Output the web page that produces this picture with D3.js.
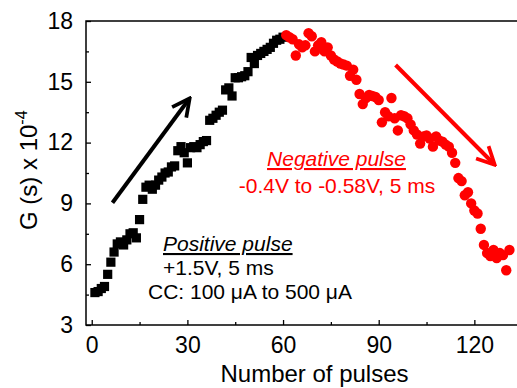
<!DOCTYPE html>
<html>
<head>
<meta charset="utf-8">
<script src="https://cdn.jsdelivr.net/npm/d3@7"></script>
<style>
    body { margin: 0; background: #fff; }
    svg { display: block; font-family: "Liberation Sans", Arial, sans-serif; }
</style>
</head>
<body>
<div id="chart"></div>
<script>
//#region Data
// Conductance G (x 10^-4 S) per pulse
const positiveStart = 1;
const positiveG = [
    4.6, 4.65, 4.8, 4.9, 5.5, 6.1, 6.6, 7.0, 7.1, 6.95,
    7.2, 7.5, 7.55, 7.3, 8.2, 9.2, 9.8, 9.9, 9.7, 9.9,
    10.15, 10.3, 10.5, 10.55, 10.8, 10.85, 11.6, 11.8, 11.5, 11.0,
    11.75, 11.8, 11.75, 11.9, 12.05, 12.1, 13.1, 13.2, 13.35, 13.5,
    13.6, 14.6, 14.7, 14.3, 15.2, 15.2, 15.25, 15.3, 15.5, 16.2,
    15.9, 16.3, 16.4, 16.5, 16.6, 16.7, 16.9, 17.05, 17.1, 17.2
];

const negativeStart = 61;
const negativeG = [
    17.3, 17.2, 17.1, 16.3, 16.85, 16.7, 16.8, 17.4, 17.25, 16.5,
    16.8, 16.95, 16.5, 16.7, 16.3, 16.1, 16.0, 15.9, 15.85, 15.8,
    15.3, 15.6, 15.1, 14.4, 13.9, 14.2, 14.35, 14.3, 14.25, 14.1,
    13.0, 13.5, 13.3, 14.2, 13.2, 12.6, 13.35, 13.3, 13.2, 12.9,
    12.6, 12.4, 11.95, 12.3, 12.35, 12.2, 11.8, 12.3, 12.1, 12.05,
    11.9, 11.8, 11.5, 11.0, 10.25, 10.1, 9.4, 9.55, 9.0, 8.65,
    8.5, 7.75, 6.95, 6.55, 6.4, 6.7, 6.3, 6.55, 6.45, 5.7,
    6.7
];

const xMajorTicks = [0, 30, 60, 90, 120];
const xMinorTicks = [15, 45, 75, 105];
const yMajorTicks = [3, 6, 9, 12, 15, 18];
const yMinorTicks = [4.5, 7.5, 10.5, 13.5, 16.5];

// Arrow annotations in data units: [pulse, G]
const riseArrow = [[6.5, 9.03], [30.3, 14.1]];
const fallArrow = [[95.3, 15.83], [125.9, 10.98]];
//#endregion

//#region Chart
const width = 517;
const height = 388;
const plot = { left: 86, right: 519, top: 21, bottom: 325 };

const svg = d3.select("#chart")
    .append("svg")
    .attr("width", width)
    .attr("height", height);

const x = d3.scaleLinear()
    .domain([-1.8, 134])
    .range([plot.left, plot.right]);

const y = d3.scaleLinear()
    .domain([3, 18])
    .range([plot.bottom, plot.top]);

const positiveData = positiveG.map((g, i) => ({ n: positiveStart + i, g }));
const negativeData = negativeG.map((g, i) => ({ n: negativeStart + i, g }));

// Arrow heads
const defs = svg.append("defs");
function addHead(id, color) {
    defs.append("marker")
        .attr("id", id)
        .attr("viewBox", "0 0 10 10")
        .attr("refX", 8)
        .attr("refY", 5)
        .attr("markerWidth", 5.5)
        .attr("markerHeight", 5.5)
        .attr("orient", "auto")
        .append("path")
        .attr("d", "M1,1 L9,5 L1,9")
        .attr("fill", "none")
        .attr("stroke", color)
        .attr("stroke-width", 1.7)
        .attr("stroke-linejoin", "miter");
}
addHead("head-black", "#000");
addHead("head-red", "#ff0000");

// Data markers
svg.append("g")
    .selectAll("rect")
    .data(positiveData)
    .enter()
    .append("rect")
    .attr("x", d => x(d.n) - 4.6)
    .attr("y", d => y(d.g) - 4.6)
    .attr("width", 9.2)
    .attr("height", 9.2)
    .attr("fill", "#000");

svg.append("g")
    .selectAll("circle")
    .data(negativeData)
    .enter()
    .append("circle")
    .attr("cx", d => x(d.n))
    .attr("cy", d => y(d.g))
    .attr("r", 5.2)
    .attr("fill", "#ff0000");

// Axes with inward ticks
function drawXAxis(ticks, size, labels) {
    const g = svg.append("g")
        .attr("transform", `translate(0,${plot.bottom})`)
        .call(d3.axisBottom(x).tickValues(ticks).tickSize(-size).tickPadding(12)
            .tickFormat(labels ? d3.format("d") : ""));
    g.select(".domain").remove();
    g.selectAll("line").attr("stroke-width", 1.3);
    g.selectAll("text").attr("font-size", 23).attr("font-family", "Liberation Sans, Arial, sans-serif");
}

function drawYAxis(ticks, size, labels) {
    const g = svg.append("g")
        .attr("transform", `translate(${plot.left},0)`)
        .call(d3.axisLeft(y).tickValues(ticks).tickSize(-size).tickPadding(13)
            .tickFormat(labels ? d3.format("d") : ""));
    g.select(".domain").remove();
    g.selectAll("line").attr("stroke-width", 1.3);
    g.selectAll("text").attr("font-size", 23).attr("font-family", "Liberation Sans, Arial, sans-serif");
}

drawXAxis(xMajorTicks, 5, true);
drawXAxis(xMinorTicks, 3, false);
drawYAxis(yMajorTicks, 5, true);
drawYAxis(yMinorTicks, 3, false);

// Frame
svg.append("rect")
    .attr("x", plot.left)
    .attr("y", plot.top)
    .attr("width", plot.right - plot.left)
    .attr("height", plot.bottom - plot.top)
    .attr("fill", "none")
    .attr("stroke", "#000")
    .attr("stroke-width", 1.5);

// Axis titles
svg.append("text")
    .attr("x", (217 + 412) / 2)
    .attr("y", 382)
    .attr("text-anchor", "middle")
    .attr("font-size", 24)
    .text("Number of pulses");

const yTitle = svg.append("text")
    .attr("transform", "translate(37,230) rotate(-90)")
    .attr("font-size", 24);
yTitle.append("tspan").text("G (s) x 10");
yTitle.append("tspan")
    .attr("font-size", 16)
    .attr("dy", -10)
    .text("-4");

// Arrows
function drawArrow(pts, color, id) {
    svg.append("line")
        .attr("x1", x(pts[0][0]))
        .attr("y1", y(pts[0][1]))
        .attr("x2", x(pts[1][0]))
        .attr("y2", y(pts[1][1]))
        .attr("stroke", color)
        .attr("stroke-width", 4)
        .attr("marker-end", `url(#${id})`);
}
drawArrow(riseArrow, "#000", "head-black");
drawArrow(fallArrow, "#ff0000", "head-red");

// Annotations
svg.append("text")
    .attr("x", 336.5)
    .attr("y", 166)
    .attr("text-anchor", "middle")
    .attr("font-size", 21)
    .attr("font-style", "italic")
    .attr("fill", "#ff0000")
    .style("text-decoration", "underline")
    .text("Negative pulse");

svg.append("text")
    .attr("x", 337)
    .attr("y", 193)
    .attr("text-anchor", "middle")
    .attr("font-size", 21)
    .attr("fill", "#ff0000")
    .text("-0.4V to -0.58V, 5 ms");

svg.append("text")
    .attr("x", 163)
    .attr("y", 251)
    .attr("font-size", 21)
    .attr("font-style", "italic")
    .style("text-decoration", "underline")
    .text("Positive pulse");

svg.append("text")
    .attr("x", 163)
    .attr("y", 275)
    .attr("font-size", 21)
    .text("+1.5V, 5 ms");

svg.append("text")
    .attr("x", 148)
    .attr("y", 299)
    .attr("font-size", 21)
    .text("CC: 100 \u03BCA to 500 \u03BCA");
//#endregion
</script>
</body>
</html>
